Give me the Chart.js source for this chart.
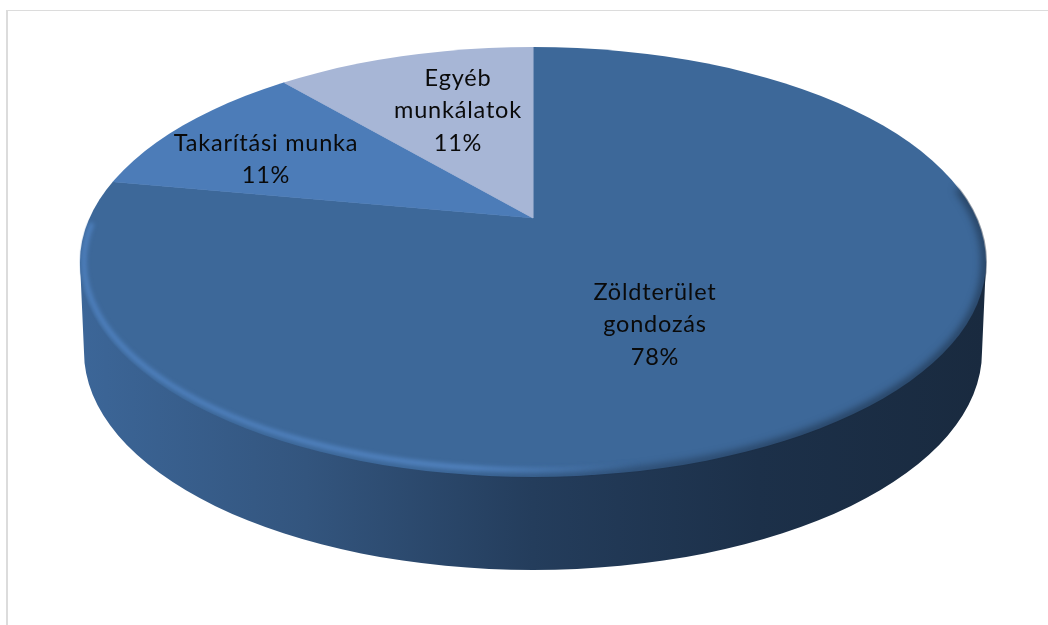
<!DOCTYPE html>
<html>
<head>
<meta charset="utf-8">
<style>
    html, body { margin: 0; padding: 0; background: #fff; overflow: hidden; }
    #frame { position: absolute; left: 6px; top: 10px; width: 1042px; height: 615px;
             border-left: 2px solid #dcdcdc; border-top: 1px solid #dcdcdc; }
    canvas { position: absolute; left: 0; top: 0; }
</style>
<script src="https://cdn.jsdelivr.net/npm/chart.js@4"></script>
</head>
<body>
<div id="frame"></div>
<canvas id="pie" width="1048" height="625"></canvas>
<script>
// adatok
const categories = ['Zöldterület gondozás', 'Takarítási munka', 'Egyéb munkálatok'];
const shares = [78, 11, 11];
const sliceColors = ['#3d6899', '#4c7cb8', '#a7b6d6'];

// felirat sorok és középpontok
const labelLines = [['Zöldterület', 'gondozás'], ['Takarítási munka'], ['Egyéb', 'munkálatok']];
const labelCenters = [[655, 292], [266, 143], [458, 78]];
const lineGap = 32.5;

// a lapos ellipszis geometriája
const apex = { x: 533, y: 218 };
const tilt = 0.45;
const zoom = 2.2;
const top3d = { x: 533, y: 262, rx: 453, ry: 215 };
const bottom3d = { x: 533, y: 352, rx: 449, ry: 218 };

function drawWall(ctx) {
    const grad = ctx.createLinearGradient(80, 0, 985, 0);
    grad.addColorStop(0, '#3c6698');
    grad.addColorStop(0.25, '#33557e');
    grad.addColorStop(0.5, '#243d5c');
    grad.addColorStop(0.75, '#1c3049');
    grad.addColorStop(1, '#192a3f');
    ctx.beginPath();
    ctx.moveTo(top3d.x - top3d.rx, top3d.y);
    ctx.lineTo(bottom3d.x - bottom3d.rx, bottom3d.y);
    ctx.ellipse(bottom3d.x, bottom3d.y, bottom3d.rx, bottom3d.ry, 0, Math.PI, 0, true);
    ctx.lineTo(top3d.x + top3d.rx, top3d.y);
    ctx.closePath();
    ctx.fillStyle = grad;
    ctx.fill();
}

function drawRim(ctx) {
    ctx.save();
    ctx.beginPath();
    ctx.ellipse(top3d.x, top3d.y, top3d.rx + 1, top3d.ry + 1, 0, 0, Math.PI * 2);
    ctx.clip();

    // sötét perem a jobb oldalon és alul
    const dark = ctx.createLinearGradient(430, 0, 800, 0);
    dark.addColorStop(0, 'rgba(36,61,92,0)');
    dark.addColorStop(0.6, 'rgba(30,50,76,0.8)');
    dark.addColorStop(1, 'rgba(26,44,66,0.95)');
    ctx.filter = 'blur(4px)';
    ctx.beginPath();
    ctx.ellipse(top3d.x, top3d.y, top3d.rx, top3d.ry, 0, -0.35, Math.PI * 0.7);
    ctx.strokeStyle = dark;
    ctx.lineWidth = 6;
    ctx.stroke();

    // világos sáv a bal alsó íven
    const light = ctx.createLinearGradient(80, 0, 640, 0);
    light.addColorStop(0, 'rgba(78,128,190,1)');
    light.addColorStop(0.7, 'rgba(84,134,196,0.9)');
    light.addColorStop(1, 'rgba(84,134,196,0)');
    ctx.filter = 'blur(2px)';
    ctx.beginPath();
    ctx.ellipse(top3d.x, top3d.y, top3d.rx - 4, top3d.ry - 7, 0, Math.PI * 0.42, Math.PI * 1.06);
    ctx.strokeStyle = light;
    ctx.lineWidth = 5;
    ctx.stroke();
    ctx.restore();
}

const flatPie = {
    id: 'flatPie',
    beforeDatasetsDraw(chart) {
        const ctx = chart.ctx;
        const arc = chart.getDatasetMeta(0).data[0];
        drawWall(ctx);
        ctx.save();
        ctx.beginPath();
        ctx.ellipse(top3d.x, top3d.y, top3d.rx, top3d.ry, 0, 0, Math.PI * 2);
        ctx.clip();
        ctx.translate(apex.x, apex.y);
        ctx.scale(zoom, zoom * tilt);
        ctx.translate(-arc.x, -arc.y);
    },
    afterDatasetsDraw(chart) {
        const ctx = chart.ctx;
        ctx.restore();
        drawRim(ctx);

        ctx.fillStyle = '#0a0a0a';
        ctx.font = '23.5px Lato';
        ctx.letterSpacing = '0.8px';
        ctx.textAlign = 'center';
        ctx.textBaseline = 'middle';
        labelLines.forEach((lines, i) => {
            const [x, y] = labelCenters[i];
            [...lines, shares[i] + '%'].forEach((line, n) => {
                ctx.fillText(line, x, y + n * lineGap);
            });
        });
    }
};

new Chart(document.getElementById('pie').getContext('2d'), {
    type: 'pie',
    data: {
        labels: categories,
        datasets: [{
            data: shares,
            backgroundColor: sliceColors,
            borderColor: sliceColors,
            borderWidth: 0.5,
        }]
    },
    options: {
        responsive: false,
        animation: false,
        plugins: {
            legend: { display: false },
            tooltip: { enabled: false },
        }
    },
    plugins: [flatPie]
});
</script>
</body>
</html>
